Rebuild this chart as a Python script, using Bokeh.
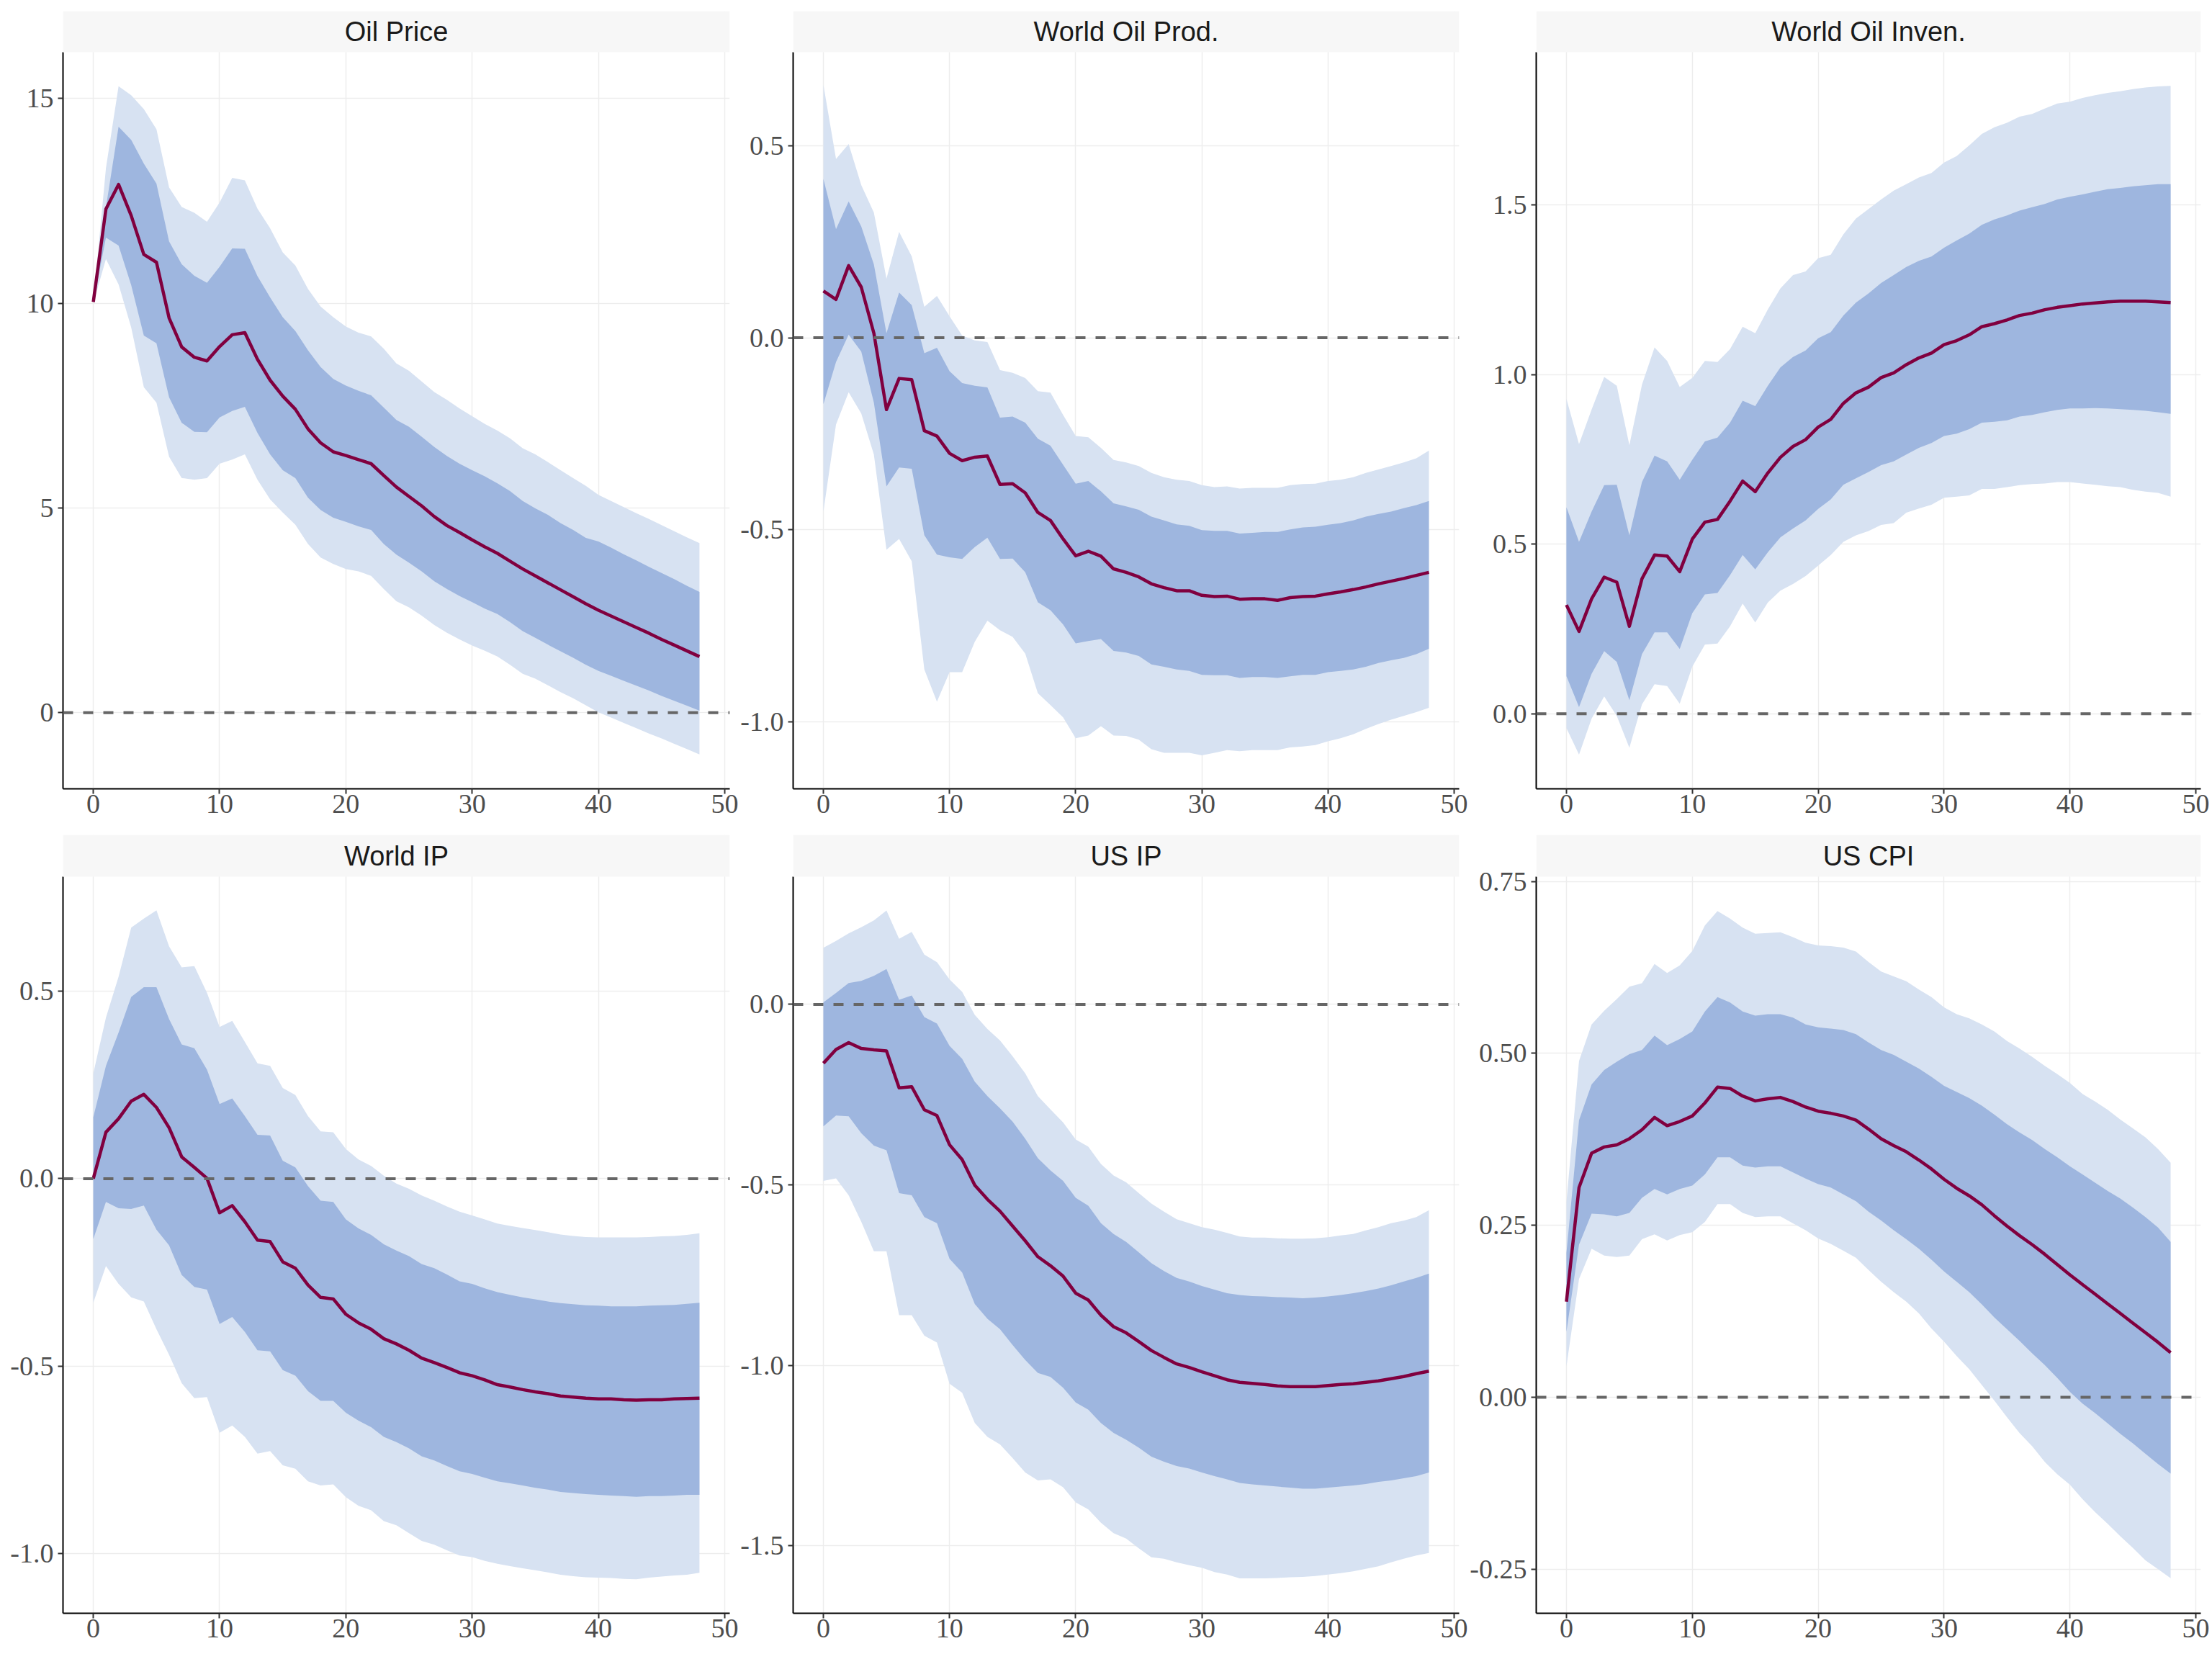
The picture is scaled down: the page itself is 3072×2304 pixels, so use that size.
from bokeh.plotting import figure
from bokeh.models import Range1d, FixedTicker, PrintfTickFormatter, Span, Label, BoxAnnotation
from bokeh.layouts import gridplot
from bokeh.embed import file_html
from bokeh.resources import INLINE

horizon = list(range(49))

titles = ["Oil Price", "World Oil Prod.", "World Oil Inven.", "World IP", "US IP", "US CPI"]

# ---- Oil Price ----
med1 = [10.03, 12.3, 12.9, 12.14, 11.19, 11.0, 9.64, 8.93, 8.68, 8.59, 8.94, 9.23, 9.28, 8.63, 8.12, 7.73, 7.41,
        6.93, 6.59, 6.37, 6.28, 6.18, 6.08, 5.79, 5.51, 5.28, 5.05, 4.79, 4.57, 4.40, 4.22, 4.05, 3.89, 3.70,
        3.51, 3.34, 3.17, 3.00, 2.83, 2.66, 2.50, 2.36, 2.22, 2.08, 1.94, 1.79, 1.65, 1.51, 1.37]
hi95_1 = [10.0, 13.3, 15.3, 15.08, 14.74, 14.25, 12.83, 12.35, 12.21, 11.99, 12.46, 13.06, 13.0, 12.31, 11.83,
          11.24, 10.92, 10.35, 9.92, 9.66, 9.43, 9.28, 9.19, 8.89, 8.53, 8.35, 8.09, 7.83, 7.64, 7.43, 7.24,
          7.05, 6.89, 6.70, 6.46, 6.31, 6.12, 5.92, 5.73, 5.54, 5.32, 5.17, 5.02, 4.87, 4.73, 4.58, 4.43, 4.28, 4.14]
hi68_1 = [10.0, 12.34, 14.31, 13.99, 13.41, 12.92, 11.51, 10.95, 10.67, 10.50, 10.89, 11.34, 11.33, 10.66, 10.14,
          9.66, 9.32, 8.85, 8.44, 8.15, 7.99, 7.86, 7.75, 7.45, 7.15, 6.98, 6.74, 6.49, 6.27, 6.08, 5.92, 5.77,
          5.60, 5.41, 5.17, 4.99, 4.83, 4.63, 4.46, 4.27, 4.18, 4.03, 3.87, 3.72, 3.56, 3.41, 3.26, 3.10, 2.95]
lo68_1 = [10.0, 11.6, 11.41, 10.44, 9.21, 9.02, 7.70, 7.08, 6.86, 6.85, 7.21, 7.37, 7.47, 6.83, 6.31, 5.92, 5.73,
          5.25, 4.95, 4.76, 4.66, 4.55, 4.46, 4.12, 3.86, 3.66, 3.45, 3.21, 3.02, 2.85, 2.70, 2.54, 2.41, 2.21,
          1.99, 1.83, 1.66, 1.50, 1.34, 1.17, 1.02, 0.90, 0.78, 0.66, 0.54, 0.41, 0.29, 0.17, 0.05]
lo95_1 = [10.0, 11.08, 10.46, 9.41, 7.95, 7.57, 6.25, 5.73, 5.69, 5.73, 6.08, 6.18, 6.31, 5.69, 5.21, 4.89, 4.59,
          4.12, 3.79, 3.63, 3.51, 3.45, 3.34, 3.02, 2.72, 2.57, 2.37, 2.14, 1.95, 1.79, 1.64, 1.51, 1.37, 1.17,
          0.95, 0.83, 0.67, 0.50, 0.35, 0.18, 0.01, -0.12, -0.25, -0.38, -0.51, -0.63, -0.76, -0.89, -1.02]

# ---- World Oil Prod. ----
med2 = [0.122, 0.100, 0.188, 0.132, 0.012, -0.187, -0.106, -0.109, -0.242, -0.256, -0.301, -0.320, -0.311, -0.308,
        -0.382, -0.380, -0.404, -0.455, -0.476, -0.524, -0.568, -0.556, -0.569, -0.602, -0.611, -0.623, -0.641,
        -0.651, -0.659, -0.659, -0.671, -0.674, -0.673, -0.681, -0.680, -0.680, -0.684, -0.677, -0.674, -0.673,
        -0.667, -0.662, -0.656, -0.649, -0.641, -0.634, -0.627, -0.619, -0.611]
hi95_2 = [0.659, 0.466, 0.505, 0.398, 0.326, 0.154, 0.276, 0.212, 0.081, 0.109, 0.056, 0.006, -0.007, -0.011,
          -0.084, -0.091, -0.105, -0.139, -0.143, -0.201, -0.256, -0.259, -0.287, -0.318, -0.325, -0.334, -0.352,
          -0.363, -0.370, -0.373, -0.384, -0.389, -0.387, -0.393, -0.391, -0.391, -0.391, -0.384, -0.381, -0.380,
          -0.373, -0.370, -0.363, -0.352, -0.343, -0.334, -0.325, -0.314, -0.294]
hi68_2 = [0.414, 0.283, 0.355, 0.290, 0.191, 0.012, 0.118, 0.085, -0.040, -0.026, -0.087, -0.118, -0.125, -0.129,
          -0.208, -0.205, -0.221, -0.263, -0.281, -0.331, -0.380, -0.373, -0.400, -0.431, -0.439, -0.448, -0.466,
          -0.476, -0.486, -0.490, -0.501, -0.503, -0.503, -0.510, -0.508, -0.506, -0.506, -0.499, -0.494, -0.492,
          -0.487, -0.483, -0.476, -0.466, -0.459, -0.453, -0.444, -0.436, -0.425]
lo68_2 = [-0.173, -0.063, 0.008, -0.036, -0.169, -0.387, -0.338, -0.341, -0.514, -0.565, -0.572, -0.576, -0.545,
          -0.521, -0.576, -0.575, -0.611, -0.689, -0.710, -0.747, -0.796, -0.790, -0.785, -0.816, -0.820, -0.829,
          -0.851, -0.857, -0.864, -0.868, -0.878, -0.879, -0.879, -0.886, -0.884, -0.884, -0.886, -0.882, -0.878,
          -0.878, -0.871, -0.868, -0.864, -0.857, -0.847, -0.840, -0.834, -0.824, -0.810]
lo95_2 = [-0.453, -0.226, -0.142, -0.197, -0.304, -0.552, -0.524, -0.582, -0.864, -0.948, -0.871, -0.871, -0.792,
          -0.737, -0.762, -0.779, -0.823, -0.926, -0.957, -0.989, -1.043, -1.036, -1.012, -1.036, -1.037, -1.047,
          -1.072, -1.081, -1.081, -1.081, -1.088, -1.081, -1.074, -1.077, -1.074, -1.074, -1.074, -1.067, -1.065,
          -1.061, -1.051, -1.043, -1.033, -1.019, -1.006, -0.995, -0.985, -0.975, -0.964]

# ---- World Oil Inven. ----
med3 = [0.321, 0.243, 0.339, 0.403, 0.388, 0.258, 0.398, 0.468, 0.465, 0.419, 0.515, 0.565, 0.573, 0.627, 0.686,
        0.655, 0.710, 0.756, 0.788, 0.808, 0.845, 0.868, 0.915, 0.946, 0.963, 0.991, 1.005, 1.029, 1.049, 1.063,
        1.088, 1.100, 1.117, 1.141, 1.150, 1.161, 1.174, 1.181, 1.191, 1.198, 1.203, 1.208, 1.211, 1.214, 1.216,
        1.216, 1.216, 1.214, 1.212]
hi95_3 = [0.928, 0.795, 0.897, 0.993, 0.967, 0.792, 0.970, 1.080, 1.040, 0.963, 0.990, 1.040, 1.037, 1.075, 1.141,
          1.122, 1.192, 1.254, 1.293, 1.304, 1.343, 1.353, 1.413, 1.460, 1.488, 1.516, 1.542, 1.561, 1.581, 1.594,
          1.625, 1.644, 1.675, 1.709, 1.729, 1.742, 1.760, 1.768, 1.784, 1.799, 1.804, 1.815, 1.823, 1.830, 1.835,
          1.841, 1.846, 1.849, 1.851]
hi68_3 = [0.609, 0.507, 0.596, 0.674, 0.675, 0.526, 0.683, 0.761, 0.744, 0.690, 0.749, 0.803, 0.814, 0.858, 0.923,
          0.907, 0.967, 1.021, 1.052, 1.071, 1.107, 1.125, 1.174, 1.212, 1.239, 1.270, 1.293, 1.317, 1.335, 1.348,
          1.374, 1.395, 1.415, 1.441, 1.457, 1.469, 1.483, 1.493, 1.503, 1.516, 1.524, 1.531, 1.539, 1.546, 1.550,
          1.555, 1.558, 1.561, 1.561]
lo68_3 = [0.111, 0.020, 0.118, 0.185, 0.153, 0.040, 0.176, 0.240, 0.240, 0.191, 0.297, 0.352, 0.356, 0.409, 0.468,
          0.426, 0.476, 0.520, 0.546, 0.570, 0.604, 0.632, 0.675, 0.694, 0.713, 0.733, 0.744, 0.764, 0.784, 0.798,
          0.819, 0.826, 0.839, 0.858, 0.861, 0.865, 0.876, 0.881, 0.889, 0.896, 0.900, 0.900, 0.901, 0.900, 0.898,
          0.896, 0.893, 0.889, 0.884]
lo95_3 = [-0.042, -0.120, -0.014, 0.051, -0.006, -0.100, 0.028, 0.087, 0.082, 0.030, 0.139, 0.204, 0.207, 0.258,
          0.325, 0.269, 0.328, 0.363, 0.383, 0.406, 0.437, 0.468, 0.507, 0.526, 0.539, 0.557, 0.562, 0.593, 0.605,
          0.616, 0.637, 0.640, 0.644, 0.663, 0.663, 0.668, 0.674, 0.677, 0.679, 0.683, 0.683, 0.679, 0.675, 0.671,
          0.668, 0.660, 0.655, 0.651, 0.640]

# ---- World IP ----
med4 = [0.0, 0.124, 0.160, 0.207, 0.225, 0.190, 0.136, 0.058, 0.030, 0.001, -0.091, -0.072, -0.115, -0.164, -0.168,
        -0.222, -0.239, -0.284, -0.317, -0.321, -0.362, -0.385, -0.402, -0.427, -0.441, -0.458, -0.479, -0.491,
        -0.504, -0.518, -0.526, -0.537, -0.550, -0.556, -0.563, -0.569, -0.574, -0.580, -0.583, -0.586, -0.588,
        -0.588, -0.590, -0.591, -0.590, -0.590, -0.588, -0.587, -0.586]
hi95_4 = [0.281, 0.430, 0.539, 0.670, 0.694, 0.716, 0.620, 0.564, 0.567, 0.496, 0.405, 0.421, 0.365, 0.308, 0.301,
          0.242, 0.223, 0.167, 0.126, 0.124, 0.079, 0.051, 0.034, 0.008, -0.013, -0.027, -0.045, -0.059, -0.074,
          -0.088, -0.098, -0.109, -0.120, -0.126, -0.132, -0.137, -0.143, -0.149, -0.153, -0.156, -0.157, -0.157,
          -0.157, -0.157, -0.156, -0.154, -0.153, -0.150, -0.146]
hi68_4 = [0.164, 0.301, 0.390, 0.485, 0.511, 0.511, 0.426, 0.358, 0.348, 0.291, 0.199, 0.214, 0.167, 0.117, 0.115,
          0.048, 0.030, -0.020, -0.059, -0.062, -0.109, -0.133, -0.150, -0.175, -0.192, -0.207, -0.228, -0.239,
          -0.256, -0.274, -0.281, -0.293, -0.303, -0.310, -0.317, -0.322, -0.328, -0.332, -0.335, -0.338, -0.339,
          -0.341, -0.341, -0.341, -0.339, -0.338, -0.337, -0.334, -0.331]
lo68_4 = [-0.161, -0.062, -0.079, -0.081, -0.072, -0.136, -0.178, -0.257, -0.289, -0.296, -0.388, -0.369, -0.409,
          -0.458, -0.461, -0.511, -0.526, -0.567, -0.593, -0.593, -0.625, -0.646, -0.663, -0.689, -0.703, -0.720,
          -0.741, -0.752, -0.767, -0.781, -0.788, -0.798, -0.808, -0.813, -0.819, -0.825, -0.830, -0.836, -0.839,
          -0.842, -0.844, -0.846, -0.847, -0.849, -0.847, -0.847, -0.846, -0.844, -0.844]
lo95_4 = [-0.331, -0.233, -0.281, -0.317, -0.328, -0.402, -0.470, -0.546, -0.586, -0.583, -0.678, -0.659, -0.689,
          -0.734, -0.727, -0.765, -0.774, -0.808, -0.819, -0.816, -0.850, -0.873, -0.885, -0.914, -0.925, -0.946,
          -0.967, -0.977, -0.992, -1.006, -1.010, -1.020, -1.028, -1.034, -1.040, -1.045, -1.051, -1.057, -1.061,
          -1.064, -1.065, -1.066, -1.068, -1.069, -1.065, -1.062, -1.059, -1.057, -1.052]

# ---- US IP ----
med5 = [-0.163, -0.125, -0.106, -0.122, -0.126, -0.129, -0.231, -0.228, -0.292, -0.308, -0.389, -0.430, -0.501,
        -0.540, -0.573, -0.614, -0.655, -0.699, -0.724, -0.753, -0.800, -0.819, -0.861, -0.893, -0.910, -0.934,
        -0.959, -0.978, -0.996, -1.006, -1.018, -1.029, -1.040, -1.047, -1.050, -1.053, -1.057, -1.059, -1.059,
        -1.059, -1.056, -1.053, -1.051, -1.047, -1.043, -1.037, -1.031, -1.023, -1.016]
hi95_5 = [0.157, 0.176, 0.197, 0.214, 0.233, 0.260, 0.182, 0.201, 0.138, 0.117, 0.069, 0.035, -0.029, -0.068, -0.100,
          -0.144, -0.191, -0.254, -0.291, -0.327, -0.374, -0.394, -0.442, -0.474, -0.493, -0.523, -0.552, -0.574,
          -0.595, -0.606, -0.617, -0.624, -0.633, -0.643, -0.646, -0.646, -0.648, -0.649, -0.649, -0.648, -0.645,
          -0.640, -0.636, -0.626, -0.617, -0.606, -0.599, -0.589, -0.570]
hi68_5 = [0.006, 0.032, 0.059, 0.065, 0.079, 0.098, 0.013, 0.025, -0.035, -0.053, -0.115, -0.151, -0.214, -0.254,
          -0.288, -0.325, -0.372, -0.426, -0.460, -0.489, -0.536, -0.558, -0.606, -0.636, -0.658, -0.687, -0.717,
          -0.739, -0.758, -0.768, -0.780, -0.790, -0.800, -0.805, -0.808, -0.809, -0.811, -0.812, -0.814, -0.812,
          -0.809, -0.805, -0.800, -0.794, -0.787, -0.778, -0.768, -0.758, -0.746]
lo68_5 = [-0.338, -0.308, -0.310, -0.357, -0.391, -0.404, -0.523, -0.529, -0.589, -0.606, -0.705, -0.743, -0.830,
          -0.871, -0.900, -0.944, -0.985, -1.021, -1.032, -1.062, -1.103, -1.123, -1.160, -1.187, -1.206, -1.228,
          -1.253, -1.267, -1.279, -1.286, -1.297, -1.307, -1.316, -1.326, -1.330, -1.333, -1.336, -1.339, -1.342,
          -1.342, -1.339, -1.336, -1.333, -1.329, -1.323, -1.319, -1.313, -1.307, -1.297]
lo95_5 = [-0.489, -0.482, -0.529, -0.602, -0.684, -0.684, -0.861, -0.861, -0.918, -0.937, -1.051, -1.076, -1.160,
          -1.198, -1.219, -1.257, -1.297, -1.319, -1.316, -1.338, -1.380, -1.399, -1.436, -1.465, -1.480, -1.507,
          -1.532, -1.536, -1.546, -1.554, -1.561, -1.573, -1.580, -1.590, -1.590, -1.590, -1.589, -1.587, -1.586,
          -1.584, -1.580, -1.576, -1.571, -1.564, -1.557, -1.546, -1.536, -1.527, -1.520]

# ---- US CPI ----
med6 = [0.139, 0.305, 0.355, 0.364, 0.367, 0.376, 0.389, 0.407, 0.395, 0.401, 0.409, 0.428, 0.451, 0.449, 0.438,
        0.431, 0.434, 0.436, 0.430, 0.422, 0.416, 0.413, 0.409, 0.403, 0.390, 0.376, 0.366, 0.357, 0.345, 0.332,
        0.317, 0.304, 0.293, 0.280, 0.264, 0.249, 0.235, 0.222, 0.208, 0.193, 0.178, 0.164, 0.150, 0.136, 0.122,
        0.108, 0.094, 0.080, 0.065]
hi95_6 = [0.284, 0.489, 0.542, 0.562, 0.579, 0.597, 0.602, 0.630, 0.617, 0.628, 0.649, 0.686, 0.707, 0.696, 0.683,
          0.674, 0.675, 0.676, 0.669, 0.661, 0.657, 0.656, 0.654, 0.648, 0.633, 0.619, 0.612, 0.605, 0.593, 0.582,
          0.567, 0.557, 0.551, 0.542, 0.532, 0.518, 0.507, 0.495, 0.482, 0.470, 0.457, 0.441, 0.430, 0.418, 0.404,
          0.391, 0.378, 0.361, 0.341]
hi68_6 = [0.210, 0.403, 0.455, 0.476, 0.488, 0.499, 0.505, 0.526, 0.512, 0.521, 0.532, 0.561, 0.582, 0.574, 0.561,
          0.555, 0.557, 0.557, 0.552, 0.542, 0.538, 0.536, 0.534, 0.528, 0.516, 0.505, 0.498, 0.488, 0.478, 0.466,
          0.453, 0.444, 0.435, 0.424, 0.411, 0.397, 0.385, 0.374, 0.361, 0.349, 0.336, 0.324, 0.312, 0.300, 0.289,
          0.276, 0.262, 0.247, 0.226]
lo68_6 = [0.095, 0.222, 0.267, 0.266, 0.263, 0.268, 0.290, 0.303, 0.295, 0.303, 0.308, 0.324, 0.349, 0.349, 0.337,
          0.334, 0.336, 0.336, 0.327, 0.318, 0.310, 0.305, 0.295, 0.285, 0.270, 0.257, 0.243, 0.230, 0.216, 0.200,
          0.183, 0.168, 0.153, 0.135, 0.116, 0.099, 0.082, 0.064, 0.047, 0.028, 0.008, -0.009, -0.023, -0.038,
          -0.053, -0.067, -0.082, -0.097, -0.111]
lo95_6 = [0.045, 0.172, 0.216, 0.206, 0.204, 0.206, 0.230, 0.237, 0.228, 0.236, 0.240, 0.255, 0.281, 0.281, 0.268,
          0.262, 0.263, 0.263, 0.253, 0.243, 0.231, 0.223, 0.213, 0.203, 0.185, 0.168, 0.153, 0.139, 0.122, 0.100,
          0.081, 0.060, 0.041, 0.018, -0.005, -0.029, -0.052, -0.071, -0.094, -0.112, -0.127, -0.148, -0.167,
          -0.184, -0.202, -0.219, -0.237, -0.250, -0.263]

series = [
    (lo95_1, lo68_1, med1, hi68_1, hi95_1),
    (lo95_2, lo68_2, med2, hi68_2, hi95_2),
    (lo95_3, lo68_3, med3, hi68_3, hi95_3),
    (lo95_4, lo68_4, med4, hi68_4, hi95_4),
    (lo95_5, lo68_5, med5, hi68_5, hi95_5),
    (lo95_6, lo68_6, med6, hi68_6, hi95_6),
]

x_ticks = [0, 10, 20, 30, 40, 50]
x_limits = (-2.4, 50.4)
y_limits = [(-1.86, 16.13), (-1.175, 0.744), (-0.221, 1.950), (-1.160, 0.806), (-1.687, 0.354), (-0.314, 0.757)]
y_ticks = [[0, 5, 10, 15], [-1.0, -0.5, 0.0, 0.5], [0.0, 0.5, 1.0, 1.5],
           [-1.0, -0.5, 0.0, 0.5], [-1.5, -1.0, -0.5, 0.0], [-0.25, 0.0, 0.25, 0.5, 0.75]]
y_formats = ["%d", "%.1f", "%.1f", "%.1f", "%.1f", "%.2f"]

# ---- styles / layout (pixels) ----
LIGHT = "#D7E2F2"
DARK = "#9EB6DF"
LINE = "#80003F"
STRIP = "#F7F7F7"
PANEL_H = 1023
cols = [dict(width=1025, left=87, right=12), dict(width=1013, left=75, right=12), dict(width=1034, left=93, right=16)]
rows = [dict(height=1150, top=15, strip=57, bottom=55),
        dict(height=1154, top=9, strip=58, bottom=64)]


def make_panel(i, col, row):
    lo95, lo68, med, hi68, hi95 = series[i]
    ylo, yhi = y_limits[i]
    per_px = (yhi - ylo) / PANEL_H
    ytop = yhi + row["strip"] * per_px
    p = figure(width=col["width"], height=row["height"], x_range=Range1d(*x_limits),
               y_range=Range1d(ylo, ytop), output_backend="svg", toolbar_location=None, tools="",
               min_border_left=col["left"], min_border_right=col["right"],
               min_border_top=row["top"], min_border_bottom=row["bottom"])
    p.outline_line_color = None
    p.background_fill_color = "white"
    p.border_fill_color = "white"
    p.varea(x=horizon, y1=lo95, y2=hi95, fill_color=LIGHT)
    p.varea(x=horizon, y1=lo68, y2=hi68, fill_color=DARK)
    p.line(horizon, med, line_color=LINE, line_width=4.5, line_join="round")
    p.add_layout(Span(location=0, dimension="width", line_color="#666666", line_width=4, line_dash="14 14"))
    # facet strip above the panel
    p.add_layout(BoxAnnotation(bottom=yhi, fill_color=STRIP, fill_alpha=1.0, line_color=None))
    p.add_layout(Label(x=(x_limits[0] + x_limits[1]) / 2, y=(yhi + ytop) / 2, text=titles[i],
                       text_align="center", text_baseline="middle",
                       text_font="Liberation Sans", text_font_size="38px", text_color="#1A1A1A"))
    p.xaxis.ticker = FixedTicker(ticks=x_ticks)
    p.yaxis.ticker = FixedTicker(ticks=y_ticks[i])
    p.yaxis.formatter = PrintfTickFormatter(format=y_formats[i])
    p.yaxis.bounds = (ylo, yhi)
    for ax in (p.xaxis, p.yaxis):
        ax.axis_line_color = "black"
        ax.axis_line_width = 2
        ax.major_tick_in = 0
        ax.major_tick_out = 7
        ax.minor_tick_in = 0
        ax.minor_tick_out = 0
        ax.major_tick_line_color = "#333333"
        ax.major_tick_line_width = 2
        ax.major_label_text_font = "Liberation Serif"
        ax.major_label_text_font_size = "38px"
        ax.major_label_text_color = "#4D4D4D"
    p.xaxis.major_label_standoff = 1
    p.yaxis.major_label_standoff = 6
    p.grid.grid_line_color = "#EDEDED"
    p.grid.grid_line_width = 1.5
    return p


grid_rows = []
for r in range(2):
    grid_rows.append([make_panel(r * 3 + c, cols[c], rows[r]) for c in range(3)])

layout = gridplot(grid_rows, toolbar_location=None)

open("out.html", "w").write(file_html(layout, INLINE))
